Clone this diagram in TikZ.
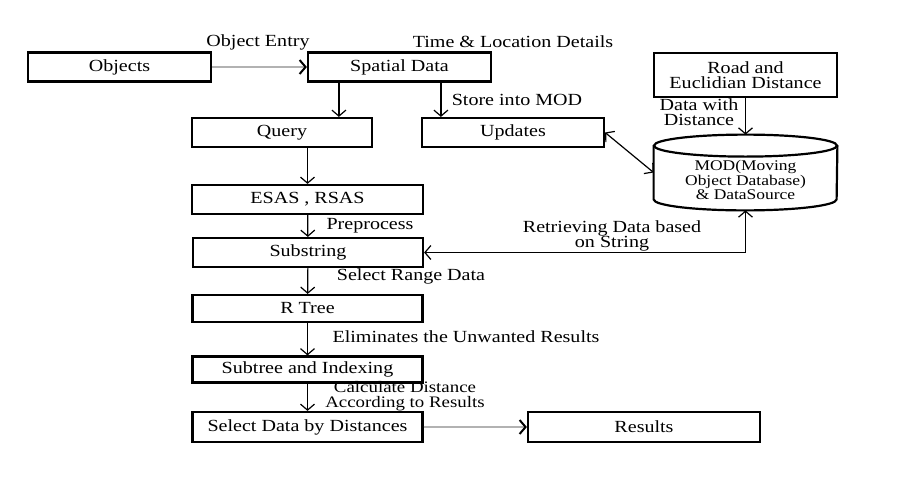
\documentclass[tikz,border=0pt]{standalone}
\usepackage{fontspec}
\setmainfont{Liberation Serif}[FakeStretch=1.18]
\usepackage{tikz}
\usetikzlibrary{arrows.meta,calc}

\begin{document}
\begin{tikzpicture}[x=0.5pt,y=-0.5pt,>={Straight Barb[length=3pt,width=7pt]},
  blk/.style={draw,line width=1.1pt,minimum height=14.5pt,inner sep=1pt,align=center,font=\fontsize{8.5}{7.8}\selectfont},
  note/.style={align=center,inner sep=0pt,font=\fontsize{8.5}{7.6}\selectfont},
  flow/.style={->,line width=0.6pt},
  grayflow/.style={-{Straight Barb[length=3pt,width=7pt,black]},draw=gray!60,line width=1pt}]
  \path (0,0) (921,477);
  % top row
  \node[blk,minimum width=91.5pt] (objects) at (119.5,67) {Objects};
  \node[blk,minimum width=91.5pt] (spatial) at (399.5,67) {Spatial Data};
  \node[blk,minimum width=90pt] (query) at (282,132.5) {Query};
  \node[blk,minimum width=91pt] (updates) at (513,132.5) {Updates};
  \node[blk,minimum width=91.5pt,minimum height=22pt] (road) at (745.5,75) {Road and\\Euclidian Distance};
  % database
  \node[minimum width=91.5pt,minimum height=37.5pt,inner sep=0pt] (mod) at (745.5,172.5) {};
  \draw[line width=1.1pt] ([yshift=-5.5pt]mod.north) ellipse [x radius=45.75pt,y radius=5.5pt];
  \draw[line width=1.1pt] ([yshift=-5.5pt]mod.north west) -- ([yshift=5.5pt]mod.south west)
    arc[start angle=180,end angle=360,x radius=45.75pt,y radius=5.5pt] -- ([yshift=-5.5pt]mod.north east);
  \node[align=center,inner sep=0pt,font=\fontsize{7.4}{7.4}\selectfont] (modtext) at (745.5,180) {MOD(Moving\\Object Database)\\\& DataSource};
  % main column
  \node[blk,minimum width=115.5pt] (esas) at (307.5,199.5) {ESAS , RSAS};
  \node[blk,minimum width=115pt] (substring) at (308,252.5) {Substring};
  \node[blk,minimum width=115pt,minimum height=13.5pt] (rtree) at (307.5,308.5) {R Tree};
  \node[blk,minimum width=115pt,minimum height=13pt] (subtree) at (307.5,369.5) {Subtree and Indexing};
  \node[blk,minimum width=115pt,minimum height=15pt] (select) at (307.5,427) {Select Data by Distances};
  \node[blk,minimum width=116pt,minimum height=15pt] (results) at (644,427) {Results};
  % connectors
  \draw[grayflow] (objects) -- (spatial);
  \draw[flow] ([xshift=16pt]spatial.south west) -- ([xshift=16pt]spatial.south west |- query.north);
  \draw[flow] ([xshift=10pt]updates.north west |- spatial.south) -- ([xshift=10pt]updates.north west);
  \draw[flow] (road) -- (mod.north);
  \draw[<->,line width=0.6pt] (updates.east) -- (mod.west);
  \draw[flow] (query.south -| esas.north) -- (esas.north);
  \draw[flow] (esas) -- (substring);
  \draw[<->,line width=0.6pt] (substring.east) -| (mod.south);
  \draw[flow] (substring) -- (rtree);
  \draw[flow] (rtree) -- (subtree);
  \draw[flow] (subtree) -- (select);
  \draw[grayflow] (select) -- (results);
  % labels
  \node[note] (entry) at (258,42) {Object Entry};
  \node[note] (details) at (513,42) {Time \& Location Details};
  \node[note] (store) at (517,100) {Store into MOD};
  \node[note] (withdist) at (699,112) {Data with\\Distance};
  \node[note] (pre) at (370,226) {Preprocess};
  \node[note] (retrieve) at (612,236) {Retrieving Data based\\on String};
  \node[note] (range) at (411,276) {Select Range Data};
  \node[note] (elim) at (466,337) {Eliminates the Unwanted Results};
  \node[note,font=\fontsize{8}{7.4}\selectfont] (calc) at (405,396.5) {Calculate Distance\\According to Results};
\end{tikzpicture}
\end{document}
